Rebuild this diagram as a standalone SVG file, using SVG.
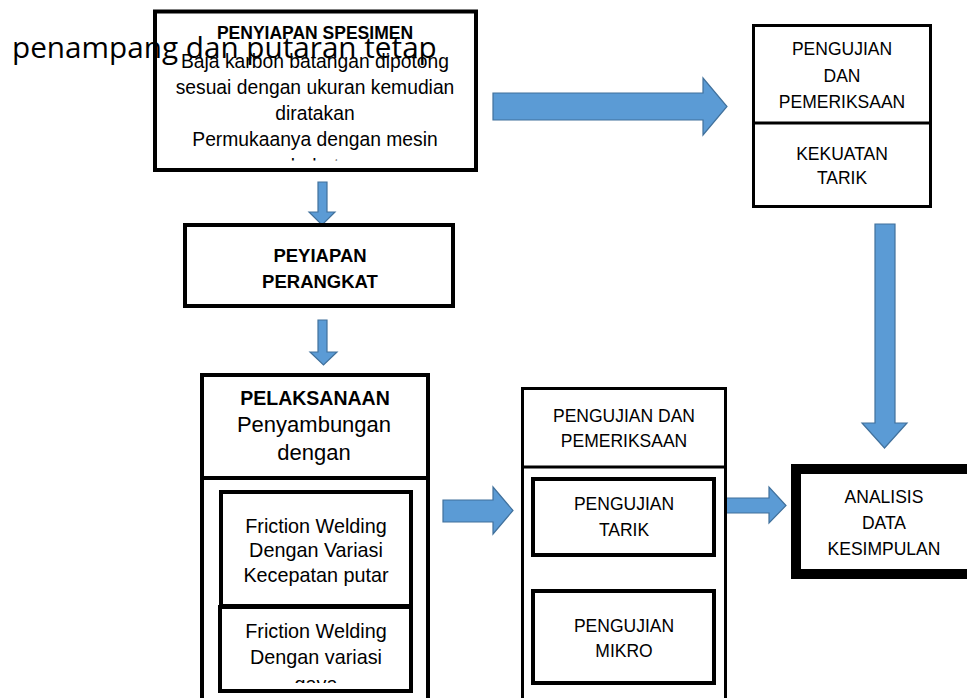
<svg xmlns="http://www.w3.org/2000/svg" width="967" height="698" viewBox="0 0 967 698">
<style>
.box{fill:#fff;stroke:#000;}
.t{font-family:"Liberation Sans",Arial,sans-serif;fill:#000;text-anchor:middle;}
.c{font-family:"Liberation Sans",Arial,sans-serif;font-size:17.5px;fill:#000;text-anchor:middle;}
.b{font-family:"Liberation Sans",Arial,sans-serif;font-weight:bold;fill:#000;text-anchor:middle;}
.s19{font-size:19.3px;}
.s22{font-size:22px;}
.s20{font-size:19.8px;}
.arr{fill:#5B9BD5;stroke:#41719C;stroke-width:1.2;}
</style>
<defs>
<clipPath id="clipTop"><rect x="150" y="0" width="340" height="160.5"/></clipPath>
<clipPath id="clipPel"><rect x="195" y="370" width="240" height="98"/></clipPath>
<clipPath id="clipFw2"><rect x="215" y="600" width="200" height="83"/></clipPath>
</defs>

<g id="connectors">
<polygon class="arr" points="493,93 703,93 703,78 727,106.5 703,135 703,120 493,120"/>
<polygon class="arr" points="318,182 327,182 327,212 335,212 322,225 309,212 318,212"/>
<polygon class="arr" points="318,320 327,320 327,352 337,352 323.5,365 310,352 318,352"/>
<polygon class="arr" points="875,224 895,224 895,423 907,423 884.5,448 862,423 875,423"/>
<polygon class="arr" points="443,500 493,500 493,487 513,510.5 493,534 493,522 443,522"/>
<polygon class="arr" points="725,498 769,498 769,487 786,505.5 769,523 769,513 725,513"/>
</g>

<g id="node-spesimen">
<rect class="box" x="155" y="11.5" width="321" height="158.5" stroke-width="4"/>
<text class="b" x="315" y="39" font-size="17.5">PENYIAPAN SPESIMEN</text>
<g clip-path="url(#clipTop)">
<text class="t s19" x="315" y="68">Baja karbon batangan dipotong</text>
<text class="t s19" x="315" y="94">sesuai dengan ukuran kemudian</text>
<text class="t s19" x="315" y="120">diratakan</text>
<text class="t s19" x="315" y="146">Permukaanya dengan mesin</text>
<text class="t s19" x="315" y="173">bubut</text>
</g>
</g>

<g id="overlay-text">
<text x="12" y="58" font-family="'Open Sans',sans-serif" font-size="29.7" fill="#000">penampang dan putaran tetap</text>
</g>

<g id="node-pengujian-kekuatan">
<rect class="box" x="753.5" y="25.5" width="177" height="181" stroke-width="3"/>
<line x1="752" y1="123" x2="932" y2="123" stroke="#000" stroke-width="3"/>
<text class="c" x="842" y="55">PENGUJIAN</text>
<text class="c" x="842" y="82">DAN</text>
<text class="c" x="842" y="108">PEMERIKSAAN</text>
<text class="c" x="842" y="160">KEKUATAN</text>
<text class="c" x="842" y="184">TARIK</text>
</g>

<g id="node-perangkat">
<rect class="box" x="185" y="225" width="268" height="81" stroke-width="4"/>
<text class="b" x="320" y="262" font-size="18.5">PEYIAPAN</text>
<text class="b" x="320" y="288" font-size="18.5">PERANGKAT</text>
</g>

<g id="node-pelaksanaan">
<rect class="box" x="202" y="375" width="226" height="340" stroke-width="4"/>
<line x1="200" y1="478" x2="430" y2="478" stroke="#000" stroke-width="4"/>
<text class="b" x="315" y="405" font-size="19.5">PELAKSANAAN</text>
<g clip-path="url(#clipPel)">
<text class="t s22" x="314" y="432">Penyambungan</text>
<text class="t s22" x="314" y="460">dengan</text>
</g>
</g>

<g id="node-fw-kecepatan">
<rect class="box" x="221" y="492" width="190" height="114" stroke-width="4"/>
<text class="t s20" x="316" y="533">Friction Welding</text>
<text class="t s20" x="316" y="557">Dengan Variasi</text>
<text class="t s20" x="316" y="582">Kecepatan putar</text>
</g>

<g id="node-fw-gaya">
<rect class="box" x="220" y="607" width="191" height="84" stroke-width="4"/>
<g clip-path="url(#clipFw2)">
<text class="t s20" x="316" y="638">Friction Welding</text>
<text class="t s20" x="316" y="664">Dengan variasi</text>
<text class="t s20" x="316" y="691">gaya</text>
</g>
</g>

<g id="node-pengujian-pemeriksaan">
<rect class="box" x="522.5" y="388.5" width="203" height="330" stroke-width="3"/>
<line x1="521" y1="467" x2="727" y2="467" stroke="#000" stroke-width="3"/>
<text class="c" x="624" y="422">PENGUJIAN DAN</text>
<text class="c" x="624" y="447">PEMERIKSAAN</text>
</g>

<g id="node-tarik">
<rect class="box" x="533" y="479" width="181" height="76" stroke-width="4"/>
<text class="c" x="624" y="510">PENGUJIAN</text>
<text class="c" x="624" y="536">TARIK</text>
</g>

<g id="node-mikro">
<rect class="box" x="533" y="591" width="181" height="92" stroke-width="4"/>
<text class="c" x="624" y="632">PENGUJIAN</text>
<text class="c" x="624" y="657">MIKRO</text>
</g>

<g id="node-analisis">
<rect class="box" x="796" y="469" width="180" height="105" stroke-width="10"/>
<text class="c" x="884" y="503">ANALISIS</text>
<text class="c" x="884" y="529">DATA</text>
<text class="c" x="884" y="555">KESIMPULAN</text>
</g>
</svg>
